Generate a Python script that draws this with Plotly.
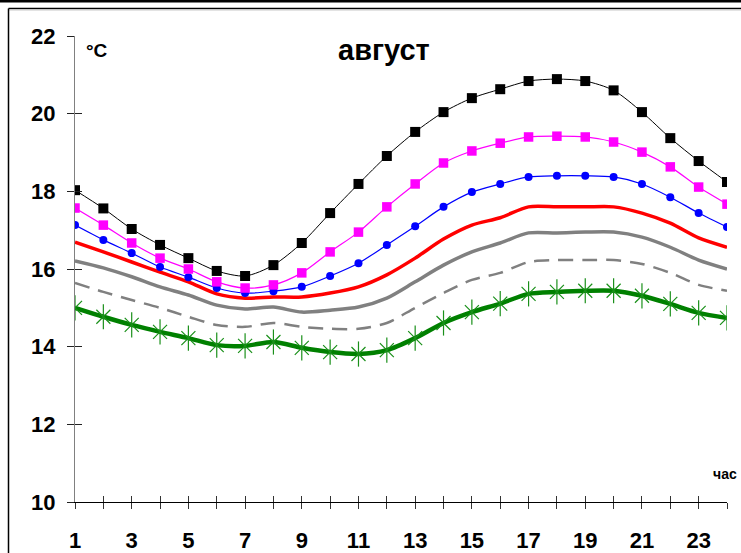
import plotly.graph_objects as go

hours = list(range(1, 25))
x_tick_labels = [str(h) if h % 2 == 1 else "" for h in hours]
y_ticks = [10, 12, 14, 16, 18, 20, 22]

s_black = [18.03, 17.56, 17.03, 16.62, 16.28, 15.95, 15.82, 16.10, 16.67, 17.44, 18.19, 18.91,
           19.53, 20.04, 20.40, 20.63, 20.84, 20.89, 20.84, 20.60, 20.04, 19.37, 18.78, 18.24]
s_magenta = [17.57, 17.13, 16.67, 16.28, 16.00, 15.67, 15.51, 15.59, 15.90, 16.44, 16.95, 17.60,
             18.19, 18.73, 19.04, 19.24, 19.40, 19.42, 19.40, 19.27, 19.01, 18.63, 18.11, 17.67]
s_blue = [17.13, 16.75, 16.41, 16.05, 15.79, 15.51, 15.38, 15.43, 15.54, 15.82, 16.15, 16.62,
          17.10, 17.60, 17.98, 18.19, 18.37, 18.40, 18.40, 18.37, 18.19, 17.85, 17.44, 17.08]
s_red = [16.69, 16.44, 16.18, 15.92, 15.67, 15.36, 15.25, 15.28, 15.28, 15.38, 15.54, 15.85,
         16.28, 16.77, 17.13, 17.32, 17.60, 17.60, 17.60, 17.60, 17.44, 17.18, 16.80, 16.56]
s_gray = [16.21, 16.03, 15.80, 15.54, 15.33, 15.07, 14.97, 15.02, 14.89, 14.94, 15.02, 15.25,
          15.67, 16.10, 16.44, 16.67, 16.93, 16.93, 16.95, 16.95, 16.82, 16.56, 16.23, 16.00]
s_gray_dash = [15.64, 15.41, 15.20, 15.00, 14.77, 14.56, 14.51, 14.61, 14.51, 14.46, 14.46, 14.61,
               15.00, 15.38, 15.72, 15.90, 16.18, 16.23, 16.23, 16.23, 16.13, 15.90, 15.59, 15.44]
s_green = [15.00, 14.77, 14.56, 14.38, 14.22, 14.04, 14.02, 14.12, 13.97, 13.86, 13.81, 13.91,
           14.22, 14.61, 14.89, 15.11, 15.36, 15.41, 15.44, 15.44, 15.31, 15.10, 14.87, 14.74]

fig = go.Figure()
spline = dict(shape="spline", smoothing=0.8)

fig.add_trace(go.Scatter(x=hours, y=s_gray_dash, mode="lines",
                         line=dict(color="#808080", width=2.5, dash="15px,9px", **spline)))
fig.add_trace(go.Scatter(x=hours, y=s_gray, mode="lines",
                         line=dict(color="#808080", width=3.5, **spline)))
fig.add_trace(go.Scatter(x=hours, y=s_red, mode="lines",
                         line=dict(color="#ff0000", width=3.5, **spline)))
fig.add_trace(go.Scatter(x=hours, y=s_green, mode="lines",
                         line=dict(color="#008000", width=4.5, **spline)))
fig.add_trace(go.Scatter(x=hours, y=s_green, mode="markers",
                         marker=dict(symbol="x-thin-open", size=14, color="#1a901a",
                                     line=dict(color="#1a901a", width=1.2))))
fig.add_trace(go.Scatter(x=hours, y=s_green, mode="markers",
                         marker=dict(symbol="line-ns-open", size=18, color="#1a901a",
                                     line=dict(color="#1a901a", width=1.2))))
fig.add_trace(go.Scatter(x=hours, y=s_blue, mode="lines+markers",
                         line=dict(color="#0000ff", width=1.2, **spline),
                         marker=dict(symbol="circle", size=8, color="#0000ff")))
fig.add_trace(go.Scatter(x=hours, y=s_magenta, mode="lines+markers",
                         line=dict(color="#ff00ff", width=1.2, **spline),
                         marker=dict(symbol="square", size=9.5, color="#ff00ff")))
fig.add_trace(go.Scatter(x=hours, y=s_black, mode="lines+markers",
                         line=dict(color="#000000", width=1, **spline),
                         marker=dict(symbol="square", size=10, color="#000000")))
# empty trace so the overlay axes (inner half of the crossing ticks) are drawn
fig.add_trace(go.Scatter(x=[None], y=[None], xaxis="x2", yaxis="y2", mode="lines",
                         hoverinfo="skip"))

font_b = "Liberation Sans, Arial, sans-serif"
L, R, T, B = 75, 14, 36, 51
W, H = 741, 553
pw, ph = W - L - R, H - T - B

def px(xp):
    return (xp - L) / pw

def py(yp):
    return (H - B - yp) / ph

tickfont = dict(size=22, family=font_b, color="black", weight="bold")

fig.update_layout(
    width=W, height=H, margin=dict(l=L, r=R, t=T, b=B, autoexpand=False),
    paper_bgcolor="white", plot_bgcolor="white", showlegend=False,
    font=dict(family=font_b, color="black"),
    xaxis=dict(range=[1, 24], tickvals=hours, ticktext=x_tick_labels, showgrid=False,
               zeroline=False, showline=True, linecolor="black", linewidth=1,
               ticks="outside", ticklen=6, tickcolor="#333333", tickwidth=1,
               tickfont=tickfont, ticklabelstandoff=13, automargin=False),
    xaxis2=dict(range=[1, 24], tickvals=hours, overlaying="x", anchor="y2", side="bottom",
                showticklabels=False, showgrid=False, zeroline=False, showline=False,
                ticks="inside", ticklen=6, tickcolor="#333333", tickwidth=1, automargin=False),
    yaxis=dict(range=[10, 22], tickvals=y_ticks, showgrid=False, zeroline=False,
               showline=True, linecolor="#808080", linewidth=1.2,
               ticks="outside", ticklen=7, tickcolor="#222222", tickwidth=1,
               tickfont=tickfont, ticklabelstandoff=7, automargin=False),
    yaxis2=dict(range=[10, 22], tickvals=y_ticks, overlaying="y", anchor="x2", side="left",
                showticklabels=False, showgrid=False, zeroline=False, showline=False,
                ticks="inside", ticklen=7, tickcolor="#222222", tickwidth=1, automargin=False),
)

fig.add_annotation(text="<b>август</b>", xref="paper", yref="paper", x=px(384), y=py(50),
                   showarrow=False, font=dict(size=29, family=font_b, color="black"),
                   xanchor="center", yanchor="middle")
fig.add_annotation(text="<b>°C</b>", xref="paper", yref="paper", x=px(84), y=py(50),
                   showarrow=False, font=dict(size=19, family=font_b, color="black"),
                   xanchor="left", yanchor="middle")
fig.add_annotation(text="<b>час</b>", xref="paper", yref="paper", x=px(711), y=py(474),
                   showarrow=False, font=dict(size=14, family=font_b, color="black"),
                   xanchor="left", yanchor="middle")

# outer frame
fig.add_shape(type="line", xref="paper", yref="paper", x0=px(0), x1=px(W), y0=py(1), y1=py(1),
              line=dict(color="black", width=3))
fig.add_shape(type="line", xref="paper", yref="paper", x0=px(8.5), x1=px(W), y0=py(8.5), y1=py(8.5),
              line=dict(color="black", width=1.5))
fig.add_shape(type="line", xref="paper", yref="paper", x0=px(9), x1=px(W), y0=py(10), y1=py(10),
              line=dict(color="#c8c8c8", width=1))
fig.add_shape(type="line", xref="paper", yref="paper", x0=px(8.5), x1=px(8.5), y0=py(8.5), y1=py(H),
              line=dict(color="black", width=1.5))

fig.write_html("out.html", config={"displayModeBar": False},
               post_script="document.body.style.margin='0';")
